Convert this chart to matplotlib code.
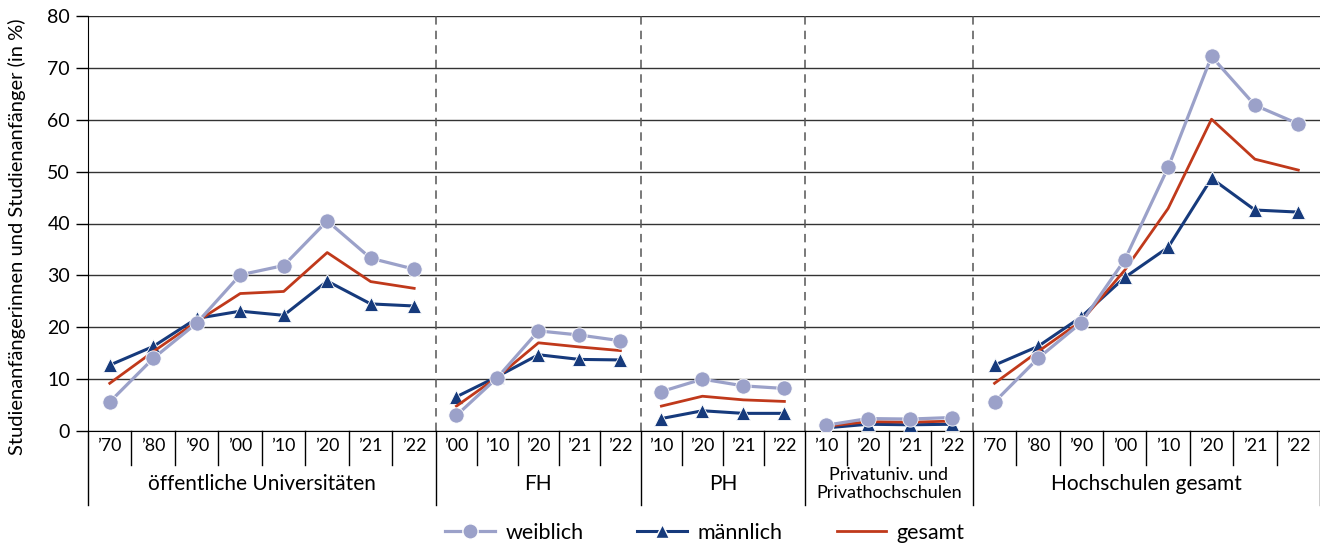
import matplotlib.pyplot as plt
from matplotlib.lines import Line2D

plt.rcParams['font.family'] = ['Lato', 'DejaVu Sans']

groups = ['öffentliche Universitäten', 'FH', 'PH',
          'Privatuniv. und\nPrivathochschulen', 'Hochschulen gesamt']
years = [
    ['’70', '’80', '’90', '’00', '’10', '’20', '’21', '’22'],
    ['’00', '’10', '’20', '’21', '’22'],
    ['’10', '’20', '’21', '’22'],
    ['’10', '’20', '’21', '’22'],
    ['’70', '’80', '’90', '’00', '’10', '’20', '’21', '’22'],
]
weiblich = [
    [5.6, 14.0, 20.8, 30.1, 31.9, 40.5, 33.3, 31.2],
    [3.0, 10.3, 19.3, 18.5, 17.4],
    [7.6, 10.0, 8.7, 8.2],
    [1.1, 2.4, 2.3, 2.6],
    [5.6, 14.0, 20.9, 33.0, 50.8, 72.2, 62.8, 59.2],
]
maennlich = [
    [12.7, 16.3, 21.7, 23.1, 22.3, 28.9, 24.5, 24.1],
    [6.6, 10.5, 14.7, 13.8, 13.7],
    [2.4, 3.9, 3.4, 3.4],
    [0.6, 1.3, 1.2, 1.3],
    [12.7, 16.3, 22.0, 29.6, 35.4, 48.7, 42.6, 42.2],
]
gesamt = [
    [9.2, 15.3, 21.1, 26.5, 26.9, 34.4, 28.8, 27.5],
    [4.8, 10.4, 17.0, 16.2, 15.5],
    [4.8, 6.7, 6.0, 5.7],
    [0.9, 1.8, 1.7, 1.9],
    [9.2, 15.3, 21.2, 31.0, 42.9, 60.1, 52.4, 50.3],
]

# width of one category slot per group (layout only)
cat_w = [43.5, 41, 41, 42, 43.4]

c_w = '#9ba1c9'
c_m = '#163a7c'
c_g = '#c0391b'

fig = plt.figure(figsize=(13.2, 5.47), dpi=100)
ax = fig.add_axes([88 / 1320, 1 - 431 / 547, 1 - 88 / 1320, 415 / 547])

start = 0
for gi, g in enumerate(groups):
    w = cat_w[gi]
    n = len(years[gi])
    xs = [start + (i + 0.5) * w for i in range(n)]
    ax.plot(xs, maennlich[gi], color=c_m, lw=2.2, marker='^', ms=10,
            mfc=c_m, mec='white', mew=0.6, zorder=3)
    ax.plot(xs, gesamt[gi], color=c_g, lw=2.0, zorder=4)
    ax.plot(xs, weiblich[gi], color=c_w, lw=2.3, marker='o', ms=11,
            mfc=c_w, mec='white', mew=0.6, zorder=5)
    tr = ax.get_xaxis_transform()
    for i in range(n):
        ax.text(xs[i], -0.036, years[gi][i], transform=tr, ha='center',
                va='center', fontsize=12.8)
        if i > 0:
            xb = start + i * w
            ax.plot([xb, xb], [0, -0.082], transform=tr, color='black',
                    lw=1, clip_on=False)
    end = start + n * w
    fs = 13 if '\n' in g else 15
    ax.text((start + end) / 2, -0.128, g, transform=tr, ha='center',
            va='center', fontsize=fs, linespacing=1.2)
    ax.plot([end, end], [0, -0.178], transform=tr, color='black', lw=1,
            clip_on=False)
    if gi < len(groups) - 1:
        ax.axvline(end, color='#555555', lw=1.1, ls=(0, (5.5, 4)), zorder=1)
    start = end

ax.set_xlim(0, start)
ax.set_ylim(0, 80)
ax.set_yticks(range(0, 81, 10))
ax.tick_params(axis='y', direction='out', length=9, width=1, labelsize=14,
               pad=4)
ax.set_xticks([])
ax.grid(axis='y', color='#333333', lw=1)
ax.set_axisbelow(True)
for s in ['top', 'right']:
    ax.spines[s].set_visible(False)
ax.spines['bottom'].set_color('black')
ax.spines['left'].set_bounds(0, 80)
ax.plot([0, 0], [0, -0.178], transform=ax.get_xaxis_transform(),
        color='black', lw=1, clip_on=False)

fig.text(17 / 1320, 1 - 237 / 547,
         'Studienanfängerinnen und Studienanfänger (in %)',
         rotation=90, ha='center', va='center', fontsize=14.5)

handles = [
    Line2D([], [], color=c_w, lw=2.3, marker='o', ms=11, mfc=c_w, mec='white'),
    Line2D([], [], color=c_m, lw=2.2, marker='^', ms=10, mfc=c_m, mec='white'),
    Line2D([], [], color=c_g, lw=2.0),
]
fig.legend(handles, ['weiblich', 'männlich', 'gesamt'], ncol=3,
           loc='center', bbox_to_anchor=(705 / 1320, 1 - 533 / 547),
           frameon=False, fontsize=15.5, handlelength=2.3, columnspacing=2.5,
           handletextpad=0.5)

fig.savefig('out.png', dpi=100)
